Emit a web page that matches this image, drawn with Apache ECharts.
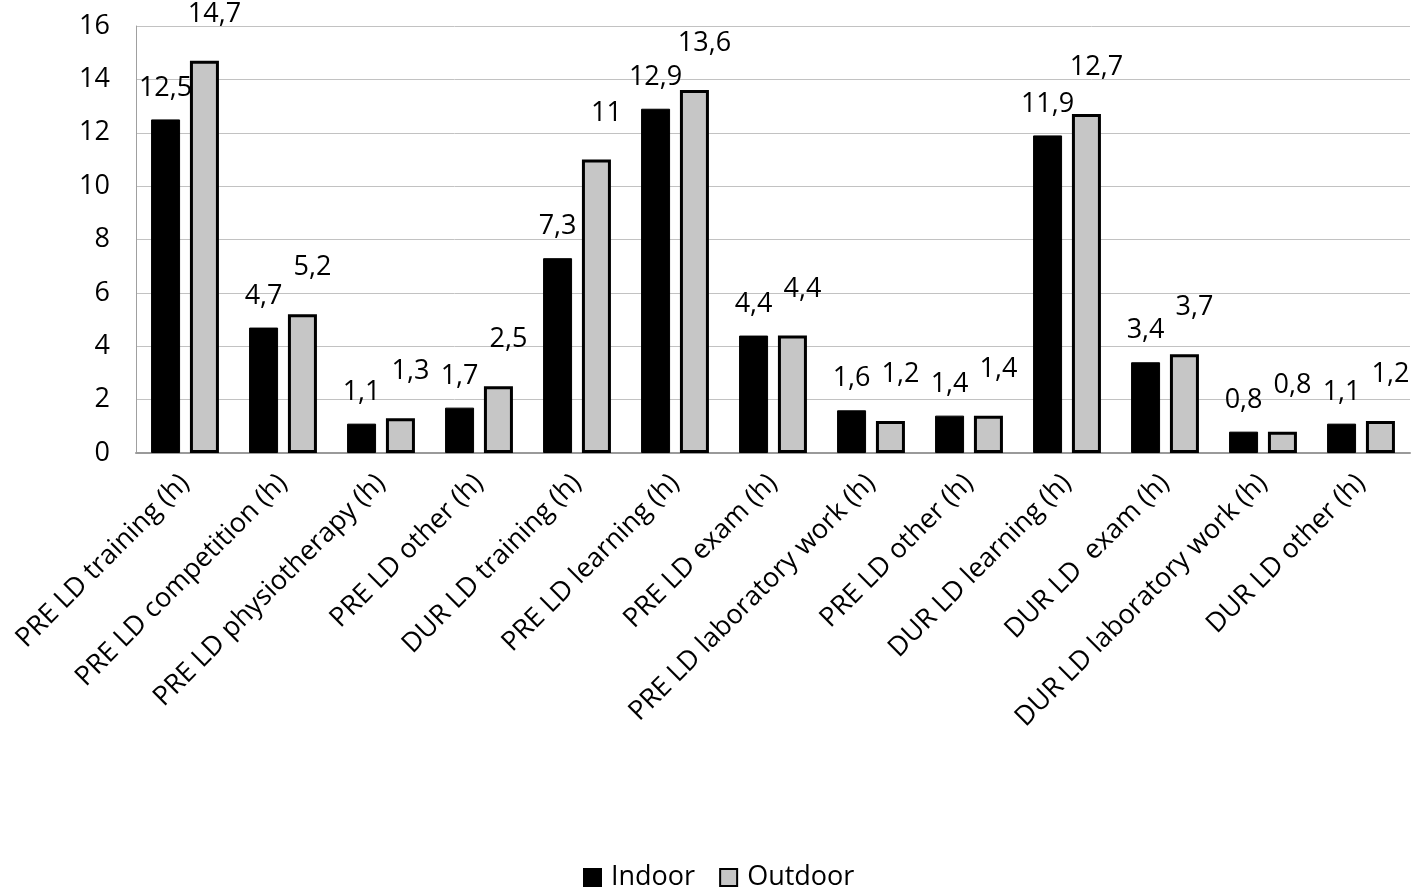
<!DOCTYPE html>
<html>
<head>
<meta charset="utf-8">
<script src="https://cdn.jsdelivr.net/npm/echarts@6/dist/echarts.min.js"></script>
<style>
  html, body { margin: 0; padding: 0; background: #fff; }
  #chart_1 { width: 1418px; height: 896px; }
</style>
</head>
<body>
<div id="chart_1"></div>
<script>
'use strict';
var categories = [
  'PRE LD training (h)', 'PRE LD competition (h)', 'PRE LD physiotherapy (h)',
  'PRE LD other (h)', 'DUR LD training (h)', 'PRE LD learning (h)',
  'PRE LD exam (h)', 'PRE LD laboratory work (h)', 'PRE LD other (h)',
  'DUR LD learning (h)', 'DUR LD  exam (h)', 'DUR LD laboratory work (h)',
  'DUR LD other (h)'
];
var indoor = [12.5, 4.7, 1.1, 1.7, 7.3, 12.9, 4.4, 1.6, 1.4, 11.9, 3.4, 0.8, 1.1];
var outdoor = [14.7, 5.2, 1.3, 2.5, 11, 13.6, 4.4, 1.2, 1.4, 12.7, 3.7, 0.8, 1.2];
var yTicks = { min: 0, max: 16, interval: 2 };

function commaFmt(p) {
  return String(p.value).replace('.', ',');
}

var FONT = '"Open Sans", "Noto Sans", sans-serif';
var myChart = echarts.init(document.getElementById('chart_1'));
var option = {
  animation: false,
  textStyle: { fontFamily: FONT, color: '#000' },
  grid: { left: 136, right: 8, top: 26, bottom: 443, containLabel: false },
  legend: {
    bottom: 0,
    left: 578,
    icon: 'rect',
    itemWidth: 17,
    itemHeight: 17,
    itemGap: 24,
    textStyle: { fontSize: 27, fontFamily: FONT, color: '#000', padding: [0, 0, 0, 5] },
    data: ['Indoor', 'Outdoor']
  },
  xAxis: {
    type: 'category',
    data: categories,
    axisLine: { lineStyle: { color: '#9a9a9a', width: 2 } },
    axisTick: { show: false },
    axisLabel: {
      rotate: 45,
      interval: 0,
      margin: 26,
      fontSize: 27,
      fontFamily: FONT,
      color: '#000'
    }
  },
  yAxis: {
    type: 'value',
    min: yTicks.min,
    max: yTicks.max,
    interval: yTicks.interval,
    axisLine: { show: true, lineStyle: { color: '#a0a0a0', width: 1 } },
    axisTick: { show: false },
    splitLine: { lineStyle: { color: '#c2c2c2', width: 1 } },
    axisLabel: { fontSize: 27, margin: 26, fontFamily: FONT, color: '#000' }
  },
  series: [
    {
      name: 'Indoor',
      type: 'bar',
      data: indoor,
      barWidth: 29,
      barGap: '34%',
      itemStyle: { color: '#000', borderColor: '#000', borderWidth: 1 },
      label: {
        show: true,
        position: 'top',
        distance: 18,
        fontSize: 27,
        fontFamily: FONT,
        color: '#000',
        formatter: commaFmt
      }
    },
    {
      name: 'Outdoor',
      type: 'bar',
      data: outdoor,
      barWidth: 29,
      barGap: '34%',
      itemStyle: { color: '#c6c6c6', borderColor: '#000', borderWidth: 3 },
      label: {
        show: true,
        position: 'top',
        distance: 33,
        offset: [10, 0],
        fontSize: 27,
        fontFamily: FONT,
        color: '#000',
        formatter: commaFmt
      }
    }
  ]
};
myChart.setOption(option);
</script>
</body>
</html>
